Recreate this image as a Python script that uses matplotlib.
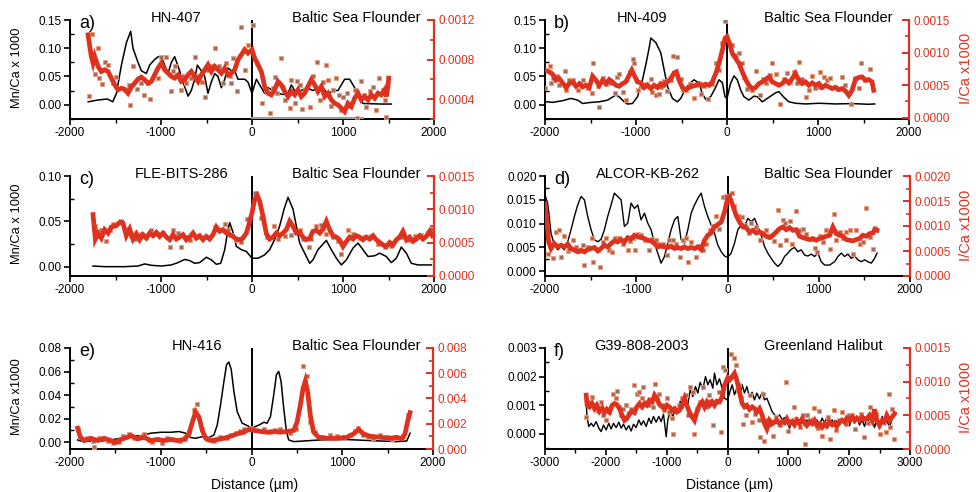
import numpy as np
import matplotlib
matplotlib.use("Agg")
import matplotlib.pyplot as plt
from matplotlib.ticker import MultipleLocator, FormatStrFormatter

plt.rcParams['font.family'] = ['Liberation Sans', 'DejaVu Sans']
plt.rcParams['axes.unicode_minus'] = False

# ======================= DATA =======================
# Mn/Ca (left axis) lines: (distance um, value)
a_mn = [(-1800,0.005),(-1700,0.008),(-1590,0.010),(-1530,0.005),(-1490,0.020),(-1435,0.070),(-1380,0.110),(-1333,0.130),(-1308,0.100),(-1253,0.075),(-1216,0.060),(-1161,0.055),(-1125,0.070),(-1070,0.080),(-1030,0.085),(-996,0.085),(-960,0.070),(-923,0.055),(-886,0.075),(-850,0.085),(-795,0.060),(-758,0.040),(-703,0.015),(-667,0.025),(-630,0.045),(-600,0.070),(-557,0.060),(-520,0.050),(-484,0.020),(-447,0.040),(-410,0.055),(-374,0.050),(-337,0.030),(-300,0.045),(-264,0.065),(-227,0.060),(-190,0.060),(-154,0.045),(-80,0.045),(-44,0.040),(0,0.020),(48,0.045),(103,0.030),(139,0.020),(176,0.030),(231,0.025),(286,0.020),(340,0.018),(396,0.020),(432,0.035),(487,0.020),(542,0.025),(597,0.030),(670,0.025),(725,0.030),(780,0.030),(835,0.018),(890,0.025),(945,0.025),(1018,0.045),(1073,0.045),(1128,0.030),(1183,0.010),(1220,0.002),(1421,0.001),(1531,0.001)]
b_mn = [(-2003,0.0054),(-1916,0.004),(-1806,0.007),(-1715,0.011),(-1642,0.008),(-1587,0.002),(-1514,0.0036),(-1404,0.005),(-1312,0.008),(-1221,0.017),(-1185,0.014),(-1130,0.005),(-1093,0.001),(-1038,0.002),(-983,0.014),(-929,0.044),(-892,0.071),(-856,0.100),(-837,0.118),(-782,0.110),(-728,0.092),(-691,0.062),(-654,0.032),(-600,0.011),(-545,0.005),(-508,0.011),(-453,0.029),(-398,0.039),(-362,0.044),(-307,0.038),(-271,0.019),(-234,0.0095),(-179,0.014),(-124,0.031),(-88,0.044),(-51,0.039),(-22,0.014),(0,0.011),(40,0.038),(77,0.051),(113,0.044),(150,0.026),(186,0.014),(241,0.008),(296,0.015),(333,0.014),(388,0.005),(461,0.013),(534,0.021),(570,0.023),(625,0.013),(680,0.005),(753,0.0024),(863,0.0012),(1009,0.0024),(1192,0.0012),(1375,0.0018),(1557,0.0006),(1623,0.0012)]
c_mn = [(-1747,0.0007),(-1619,0.0),(-1399,0.0),(-1253,0.0007),(-1179,0.003),(-1106,0.0015),(-996,0.0007),(-886,0.0019),(-813,0.0045),(-740,0.008),(-685,0.0067),(-630,0.0037),(-575,0.0045),(-502,0.0104),(-447,0.0075),(-392,0.0026),(-344,0.0037),(-300,0.0187),(-264,0.041),(-245,0.0485),(-209,0.038),(-172,0.0224),(-117,0.0187),(-62,0.0168),(0,0.0093),(66,0.0093),(139,0.013),(194,0.0187),(249,0.030),(304,0.0448),(352,0.0634),(396,0.0765),(451,0.0634),(487,0.0448),(524,0.026),(579,0.0149),(634,0.0037),(670,0.0075),(725,0.0187),(817,0.029),(872,0.0187),(927,0.0093),(982,0.0019),(1037,0.0075),(1110,0.0205),(1165,0.026),(1220,0.0187),(1275,0.0112),(1348,0.012),(1403,0.0149),(1476,0.0112),(1531,0.0045),(1586,0.0093),(1641,0.0216),(1696,0.0149),(1751,0.0037),(1824,0.0019),(1971,0.0019)]
d_mn_e3 = [(-2000,16.0),(-1971,14.3),(-1934,8.0),(-1898,5.5),(-1861,4.5),(-1824,5.2),(-1788,4.5),(-1751,6.2),(-1715,8.7),(-1678,11.5),(-1642,13.9),(-1605,15.7),(-1568,15.0),(-1532,11.5),(-1495,8.7),(-1459,6.6),(-1422,6.2),(-1386,6.7),(-1349,8.7),(-1313,11.5),(-1276,13.9),(-1240,16.4),(-1203,15.7),(-1166,15.0),(-1130,9.4),(-1093,10.1),(-1057,14.3),(-1020,13.2),(-983,13.9),(-947,10.8),(-910,12.2),(-874,10.1),(-837,8.7),(-801,5.9),(-764,3.8),(-728,1.7),(-691,3.1),(-654,5.9),(-618,8.7),(-581,10.8),(-545,11.5),(-508,6.6),(-472,5.9),(-435,8.7),(-398,12.2),(-362,13.9),(-325,15.3),(-289,16.4),(-252,13.6),(-216,11.5),(-179,9.7),(-143,8.0),(-106,5.5),(-69,4.1),(-33,3.2),(0,2.9),(40,3.8),(77,5.9),(113,8.7),(150,9.7),(186,9.4),(223,11.1),(260,10.4),(296,11.1),(333,9.4),(369,7.6),(406,5.2),(442,3.8),(479,2.7),(516,1.7),(552,1.0),(589,1.7),(625,3.1),(662,3.8),(698,4.6),(735,5.0),(771,4.1),(808,4.5),(845,3.4),(881,3.2),(918,3.6),(954,3.1),(991,3.8),(1027,2.0),(1064,1.3),(1119,1.3),(1174,2.0),(1210,3.1),(1247,3.8),(1283,3.1),(1320,3.6),(1356,2.7),(1393,3.2),(1429,2.4),(1466,2.0),(1503,2.4),(1539,2.0),(1576,1.7),(1612,2.7),(1638,3.8)]
e_mn_e3 = [(-1916,2.0),(-1861,0.57),(-1769,1.1),(-1659,1.1),(-1549,2.0),(-1440,3.4),(-1330,4.8),(-1220,5.7),(-1110,7.7),(-1000,8.5),(-890,8.5),(-799,9.1),(-725,7.7),(-670,4.0),(-615,3.4),(-542,4.8),(-469,4.0),(-414,6.2),(-377,14.8),(-341,31.8),(-304,51.6),(-275,65.8),(-249,68.1),(-223,61.6),(-194,43.1),(-158,26.1),(-103,16.2),(-48,14.2),(0,12.5),(44,13.3),(99,15.3),(136,17.0),(172,16.2),(209,21.8),(245,40.3),(275,57.3),(300,60.1),(326,51.6),(355,28.9),(385,9.1),(410,2.0),(465,0.57),(575,1.1),(758,2.0),(868,2.3),(1051,2.3),(1234,1.7),(1418,1.1),(1601,0.57),(1711,1.1),(1747,7.7)]
f_mn_e3 = [(-2323,1.07),(-2307,0.54),(-2280,0.25),(-2241,0.36),(-2203,0.25),(-2159,0.42),(-2115,0.19),(-2077,0.07),(-2039,0.30),(-1995,0.13),(-1951,0.36),(-1913,0.16),(-1874,0.36),(-1830,0.21),(-1786,0.40),(-1748,0.19),(-1710,0.33),(-1666,0.13),(-1622,0.28),(-1584,0.09),(-1545,0.33),(-1502,0.21),(-1458,0.48),(-1419,0.30),(-1381,0.45),(-1337,0.25),(-1293,0.54),(-1255,0.36),(-1217,0.60),(-1173,0.40),(-1129,0.60),(-1091,0.42),(-1052,0.68),(-1008,-0.11),(-981,0.48),(-943,0.77),(-899,0.60),(-855,0.89),(-817,0.71),(-778,1.13),(-734,0.89),(-690,1.24),(-652,1.01),(-614,1.54),(-570,1.30),(-526,1.65),(-488,1.42),(-449,1.80),(-406,1.54),(-362,2.00),(-323,1.71),(-285,1.89),(-241,1.59),(-214,2.12),(-175,1.71),(-132,1.92),(-88,1.59),(-49,1.24),(0,1.18),(33,1.42),(77,1.71),(115,1.36),(153,1.59),(197,1.30),(241,1.71),(279,1.42),(318,1.65),(362,1.27),(405,1.45),(444,1.18),(482,1.42),(526,1.22),(570,1.45),(608,1.18),(647,1.24),(690,1.01),(734,0.77),(773,0.66),(811,0.54),(855,0.66),(899,0.48),(937,0.56),(975,0.42),(1019,0.19),(1063,0.48),(1101,0.36),(1140,0.54),(1184,0.36),(1228,0.48),(1266,0.28),(1304,0.48),(1348,0.36),(1392,0.54),(1430,0.33),(1469,0.48),(1512,0.30),(1556,0.54),(1595,0.36),(1633,0.56),(1677,0.33),(1721,0.48),(1759,0.25),(1797,0.45),(1841,0.30),(1885,0.54),(1923,0.36),(1962,0.48),(2006,0.28),(2050,0.54),(2088,0.36),(2126,0.60),(2170,0.30),(2214,0.48),(2252,0.25),(2291,0.54),(2334,0.36),(2378,0.60),(2417,0.21),(2455,0.48),(2499,0.30),(2543,0.60),(2581,0.33),(2619,0.48),(2663,0.21),(2707,0.54),(2745,0.66)]

# I/Ca (right axis) smoothed lines, in units of 1e-4 (panel e in 1e-3)
a_ica_e4 = [(-1802,10.5),(-1766,8.32),(-1747,7.65),(-1729,8.32),(-1692,7.31),(-1656,6.80),(-1619,6.97),(-1582,6.80),(-1546,6.13),(-1509,5.45),(-1472,4.95),(-1436,5.11),(-1399,5.01),(-1363,4.61),(-1326,5.22),(-1289,5.62),(-1253,6.03),(-1216,6.23),(-1179,5.96),(-1143,5.62),(-1106,5.79),(-1070,6.46),(-1033,7.14),(-996,7.65),(-960,6.97),(-923,6.63),(-886,6.30),(-850,6.13),(-813,6.46),(-777,5.79),(-740,5.96),(-703,6.46),(-667,6.80),(-630,6.30),(-593,5.79),(-557,6.46),(-520,6.97),(-484,7.48),(-447,6.80),(-410,7.31),(-374,6.97),(-337,6.63),(-300,7.14),(-264,6.46),(-227,6.63),(-190,6.97),(-154,7.98),(-117,8.49),(-81,9.00),(-44,8.66),(0,9.00),(29,8.15),(66,7.48),(103,6.80),(139,5.28),(176,4.61),(212,4.44),(249,4.95),(286,5.79),(322,5.45),(359,4.78),(396,4.27),(432,4.78),(469,4.44),(505,4.95),(542,4.27),(579,4.61),(615,5.28),(652,5.96),(689,5.45),(725,4.78),(762,5.28),(799,4.27),(835,4.61),(872,3.93),(908,3.59),(945,3.43),(982,3.09),(1018,2.75),(1055,3.59),(1092,3.26),(1128,4.10),(1165,4.61),(1201,3.93),(1238,4.27),(1275,3.93),(1311,4.44),(1348,4.10),(1385,4.61),(1421,4.44),(1458,4.95),(1476,4.27),(1494,5.28),(1502,6.13)]
b_ica_e4 = [(-2003,7.30),(-1952,7.04),(-1916,6.68),(-1879,5.76),(-1843,6.01),(-1806,5.34),(-1769,4.63),(-1733,5.24),(-1696,5.50),(-1660,4.83),(-1623,5.24),(-1587,4.73),(-1550,4.98),(-1514,4.63),(-1477,6.37),(-1440,5.76),(-1404,4.98),(-1367,5.76),(-1331,5.24),(-1294,5.86),(-1258,5.50),(-1221,4.98),(-1185,4.83),(-1148,5.24),(-1111,5.50),(-1075,6.53),(-1046,7.30),(-1020,6.53),(-983,5.50),(-947,5.34),(-910,4.63),(-874,4.98),(-837,4.47),(-801,4.98),(-764,4.63),(-728,5.24),(-691,4.98),(-654,5.50),(-618,6.01),(-581,6.89),(-556,7.04),(-527,5.76),(-490,4.63),(-453,4.32),(-417,4.63),(-380,4.83),(-344,4.98),(-307,5.24),(-271,4.98),(-234,5.14),(-197,4.98),(-161,5.50),(-124,6.78),(-88,8.33),(-51,10.38),(-22,12.18),(0,12.44),(29,11.41),(58,9.87),(95,9.10),(132,8.33),(168,7.04),(205,5.86),(241,4.98),(278,4.47),(314,4.63),(351,5.24),(388,5.50),(424,5.86),(461,6.27),(497,5.50),(534,5.24),(570,4.98),(607,5.24),(643,5.76),(680,5.34),(717,6.01),(753,6.78),(790,5.76),(826,5.24),(863,5.50),(899,4.98),(936,5.34),(972,4.98),(1009,5.24),(1046,4.63),(1082,4.98),(1119,4.73),(1155,4.47),(1192,4.63),(1228,4.32),(1265,4.47),(1302,4.11),(1338,3.44),(1375,4.21),(1411,5.86),(1448,6.17),(1484,6.27),(1521,5.76),(1557,5.86),(1594,5.50),(1612,4.21)]
c_ica_e4 = [(-1747,9.21),(-1722,5.54),(-1692,6.44),(-1656,5.69),(-1619,6.95),(-1582,6.44),(-1546,7.35),(-1491,7.55),(-1454,8.05),(-1418,7.95),(-1381,6.04),(-1344,7.05),(-1308,5.54),(-1271,6.34),(-1234,5.44),(-1198,6.19),(-1161,5.69),(-1125,6.44),(-1088,6.04),(-1051,6.54),(-1015,5.94),(-978,6.44),(-941,5.84),(-905,5.44),(-868,6.19),(-831,5.54),(-795,5.84),(-758,6.19),(-722,5.44),(-685,5.84),(-648,6.44),(-612,5.69),(-575,6.04),(-538,5.44),(-502,5.94),(-465,5.54),(-429,6.19),(-392,7.35),(-355,6.70),(-319,6.95),(-282,6.44),(-245,6.19),(-209,5.94),(-172,5.54),(-136,5.44),(-99,5.69),(-62,6.44),(-37,7.55),(0,9.46),(29,11.48),(59,12.08),(84,11.23),(121,8.96),(158,6.34),(194,5.54),(231,5.84),(267,6.44),(304,6.04),(341,6.44),(377,6.95),(414,8.21),(451,7.45),(487,6.44),(524,6.54),(560,5.84),(597,5.44),(634,5.69),(670,6.70),(707,6.85),(744,6.44),(780,7.05),(817,8.21),(853,6.95),(890,6.04),(927,5.84),(963,5.44),(1000,4.43),(1037,5.19),(1073,5.84),(1110,5.54),(1147,6.04),(1183,5.84),(1220,5.44),(1256,5.84),(1293,5.54),(1330,6.04),(1366,5.44),(1403,5.03),(1440,4.68),(1476,4.43),(1513,5.03),(1549,4.68),(1586,5.44),(1622,5.84),(1659,6.70),(1696,5.44),(1732,5.84),(1769,5.19),(1806,5.54),(1842,6.04),(1879,5.54),(1915,5.94),(1952,6.70),(1982,6.04)]
d_ica_e4 = [(-2000,14.4),(-1982,11.8),(-1960,6.82),(-1934,5.50),(-1898,6.49),(-1861,5.83),(-1824,6.16),(-1788,5.83),(-1751,6.36),(-1715,5.50),(-1678,5.17),(-1642,4.83),(-1605,5.17),(-1568,4.83),(-1532,5.30),(-1495,5.50),(-1459,5.70),(-1422,5.03),(-1386,5.50),(-1349,6.16),(-1313,5.83),(-1276,6.49),(-1240,7.02),(-1203,6.82),(-1166,7.29),(-1130,6.82),(-1093,7.68),(-1057,7.48),(-1020,8.15),(-983,7.82),(-947,7.68),(-910,7.48),(-874,7.15),(-837,7.02),(-801,6.49),(-764,5.83),(-728,5.96),(-691,5.83),(-654,5.70),(-618,5.96),(-581,5.50),(-545,5.70),(-508,5.50),(-472,5.83),(-435,5.50),(-398,5.70),(-362,5.50),(-325,5.83),(-289,5.30),(-252,7.15),(-216,8.15),(-179,8.61),(-143,9.80),(-106,10.3),(-69,10.8),(-33,12.8),(0,15.4),(22,15.8),(58,14.1),(95,12.1),(132,10.8),(168,9.80),(205,9.67),(241,8.81),(278,9.14),(314,8.61),(351,8.81),(388,8.48),(424,7.95),(461,7.68),(497,8.15),(534,8.81),(570,9.47),(607,9.80),(643,9.27),(680,9.67),(717,9.14),(753,9.27),(790,7.95),(826,7.68),(863,7.48),(899,7.29),(936,7.48),(972,7.15),(1009,7.48),(1046,7.68),(1082,7.95),(1119,8.15),(1155,9.80),(1192,8.48),(1228,8.15),(1265,7.95),(1302,7.29),(1338,7.15),(1375,7.02),(1411,7.29),(1448,7.48),(1484,8.15),(1521,7.95),(1557,8.48),(1594,8.61),(1612,9.27),(1638,9.14)]
e_ica_e3 = [(-1916,1.65),(-1886,0.93),(-1842,0.67),(-1769,0.85),(-1696,0.67),(-1623,0.85),(-1549,0.67),(-1494,0.53),(-1440,0.75),(-1366,0.93),(-1330,1.07),(-1256,0.80),(-1183,0.93),(-1110,0.67),(-1037,0.75),(-963,0.67),(-890,0.75),(-817,0.67),(-744,0.75),(-689,1.20),(-652,2.13),(-615,2.93),(-579,2.53),(-542,1.47),(-505,0.85),(-451,0.67),(-377,0.75),(-304,0.85),(-231,1.01),(-158,1.20),(-84,1.33),(-29,1.55),(26,1.47),(99,1.39),(172,1.33),(245,1.39),(319,1.33),(392,1.39),(465,1.47),(502,2.13),(538,3.47),(568,4.80),(593,5.39),(619,4.53),(648,2.67),(685,1.33),(740,0.93),(832,0.85),(941,0.85),(1051,0.93),(1125,1.20),(1179,1.55),(1234,1.20),(1308,1.01),(1418,0.93),(1528,0.85),(1601,0.93),(1656,0.80),(1692,1.20),(1718,2.13),(1747,2.88)]
f_ica_e4 = [(-2323,8.0),(-2307,6.5),(-2269,6.25),(-2225,6.75),(-2186,6.0),(-2148,6.5),(-2104,5.6),(-2060,6.1),(-2022,5.4),(-1984,5.9),(-1940,5.5),(-1896,6.5),(-1858,6.75),(-1819,6.6),(-1776,6.0),(-1732,5.0),(-1693,4.25),(-1655,4.5),(-1611,5.25),(-1567,5.6),(-1529,5.4),(-1491,6.25),(-1447,6.75),(-1403,6.25),(-1365,6.75),(-1326,6.5),(-1282,7.25),(-1238,7.0),(-1200,8.0),(-1162,7.5),(-1118,6.6),(-1074,6.25),(-1036,6.0),(-997,6.5),(-954,6.25),(-910,5.75),(-871,6.0),(-833,5.5),(-789,5.75),(-745,6.5),(-707,7.5),(-669,6.5),(-625,5.5),(-581,4.75),(-543,4.25),(-504,5.5),(-460,6.5),(-416,7.0),(-378,6.25),(-340,7.0),(-296,6.5),(-252,7.0),(-214,6.5),(-175,7.1),(-132,7.0),(-88,7.75),(-49,9.5),(0,10.5),(33,10.25),(77,10.75),(115,11.25),(153,10.25),(197,8.5),(241,6.75),(279,6.25),(318,6.5),(362,5.9),(405,6.25),(444,6.0),(482,5.5),(526,6.0),(570,5.0),(608,3.75),(647,3.0),(690,4.25),(734,3.75),(773,4.0),(811,4.25),(855,3.75),(899,4.1),(937,3.9),(975,4.5),(1019,3.75),(1063,4.1),(1101,3.6),(1140,4.25),(1184,3.75),(1228,4.5),(1266,3.9),(1304,3.5),(1348,4.0),(1392,3.75),(1430,4.25),(1469,3.5),(1512,3.75),(1556,3.25),(1595,3.75),(1633,3.4),(1677,4.0),(1721,3.6),(1759,3.9),(1797,3.4),(1841,4.0),(1885,4.25),(1923,4.0),(1962,4.6),(2006,4.25),(2050,4.75),(2088,4.25),(2126,4.6),(2170,4.25),(2214,4.75),(2252,4.4),(2291,4.5),(2334,5.0),(2378,4.25),(2417,5.9),(2455,4.25),(2499,3.5),(2543,4.25),(2581,4.0),(2619,5.0),(2663,4.25),(2707,4.75),(2745,5.25)]

# I/Ca raw measurements (squares), same units as the smoothed lines
a_pts_e4 = [(-1795,4.34),(-1755,10.62),(-1692,9.17),(-1729,6.57),(-1685,6.19),(-1645,5.55),(-1612,7.71),(-1582,7.48),(-1527,5.62),(-1491,6.23),(-1399,4.95),(-1355,5.45),(-1337,3.43),(-1308,7.31),(-1260,5.01),(-1216,5.62),(-1190,4.44),(-1143,5.62),(-1125,4.00),(-1033,6.13),(-1004,8.25),(-941,8.25),(-894,4.78),(-868,6.80),(-842,7.31),(-784,4.95),(-769,6.30),(-722,5.62),(-674,6.13),(-630,8.25),(-593,6.30),(-549,5.69),(-513,4.20),(-484,6.97),(-447,7.31),(-403,9.17),(-366,7.31),(-319,5.62),(-282,7.65),(-245,6.30),(-227,5.62),(-209,8.15),(-161,4.78),(-125,11.29),(-81,6.97),(-44,9.50),(15,11.53),(59,7.65),(114,3.59),(158,4.95),(194,2.58),(231,5.11),(249,6.23),(278,4.61),(315,8.15),(341,5.22),(366,3.93),(414,3.09),(432,5.96),(476,3.59),(498,5.79),(524,5.45),(549,2.99),(586,4.95),(634,3.26),(670,6.36),(714,7.71),(751,3.93),(780,5.69),(817,7.48),(835,5.89),(864,3.32),(890,4.88),(927,6.13),(952,4.44),(982,2.92),(1000,4.27),(1048,4.61),(1073,3.32),(1128,4.95),(1157,2.08),(1201,5.79),(1231,4.44),(1256,3.26),(1293,4.78),(1330,5.28),(1366,2.92),(1392,6.13),(1440,4.95),(1458,3.93),(1476,2.24)]
b_pts_e4 = [(-1996,4.63),(-1945,7.91),(-1916,6.17),(-1934,5.34),(-1872,6.37),(-1850,4.98),(-1777,7.19),(-1769,4.21),(-1733,5.76),(-1696,5.76),(-1642,4.32),(-1616,5.14),(-1579,5.76),(-1532,4.63),(-1484,3.80),(-1470,8.43),(-1422,4.83),(-1404,1.64),(-1367,6.17),(-1331,5.24),(-1287,5.34),(-1228,3.80),(-1214,6.27),(-1185,6.78),(-1148,3.96),(-1111,2.67),(-1068,7.04),(-1038,8.94),(-1020,8.43),(-973,4.32),(-936,4.73),(-885,5.24),(-837,6.01),(-819,3.96),(-782,3.44),(-746,3.60),(-728,4.73),(-691,5.65),(-654,4.11),(-618,5.86),(-592,9.46),(-545,9.25),(-508,6.01),(-483,4.21),(-453,4.32),(-409,5.14),(-362,3.08),(-325,4.98),(-289,3.60),(-252,4.83),(-205,2.93),(-161,5.14),(-117,8.43),(-88,7.30),(-51,11.41),(-22,14.85),(-7,12.03),(51,11.15),(95,9.61),(132,9.87),(161,8.43),(186,6.27),(223,4.47),(278,4.21),(322,7.19),(358,3.44),(395,6.01),(424,5.34),(468,6.53),(497,8.43),(534,6.68),(578,2.16),(625,6.01),(662,6.89),(687,5.50),(735,7.04),(771,5.34),(790,8.58),(826,6.01),(863,3.19),(899,4.21),(936,6.37),(965,4.63),(1009,4.73),(1027,7.04),(1064,6.27),(1100,5.86),(1137,6.17),(1185,4.73),(1221,4.47),(1265,6.27),(1302,4.98),(1338,3.80),(1367,2.16),(1411,6.17),(1448,4.63),(1477,8.43),(1514,5.86),(1576,7.55)]
c_pts_e4 = [(-1722,7.55),(-1692,5.94),(-1656,6.95),(-1601,5.19),(-1564,6.95),(-1527,7.85),(-1443,8.21),(-1399,7.05),(-1326,6.04),(-1289,5.54),(-1216,6.34),(-1161,5.84),(-1106,6.85),(-1040,6.34),(-978,6.44),(-905,4.33),(-868,6.85),(-813,6.44),(-784,4.33),(-740,5.84),(-685,5.44),(-612,5.84),(-520,5.84),(-410,7.35),(-300,7.85),(-264,6.95),(-227,6.19),(-172,5.44),(-117,5.03),(-51,8.56),(29,12.38),(103,8.71),(168,5.84),(242,7.55),(286,5.54),(359,5.94),(432,6.19),(524,6.95),(560,5.54),(623,4.33),(652,5.54),(707,7.45),(755,7.70),(780,7.20),(817,6.34),(890,5.84),(945,5.19),(982,3.32),(1055,6.85),(1110,6.34),(1183,5.69),(1238,5.84),(1311,6.04),(1385,4.83),(1458,4.33),(1531,4.53),(1641,5.84),(1714,5.34),(1788,6.04),(1861,6.19),(1934,6.44),(1963,7.05)]
d_pts_e4 = [(-1971,4.37),(-1916,3.51),(-1879,8.81),(-1843,9.14),(-1824,3.84),(-1788,7.95),(-1751,5.03),(-1733,5.50),(-1696,7.15),(-1660,5.83),(-1623,5.03),(-1587,6.16),(-1568,2.19),(-1532,5.83),(-1484,7.68),(-1470,2.85),(-1422,5.30),(-1397,1.85),(-1367,6.82),(-1331,7.68),(-1302,5.17),(-1265,4.83),(-1228,7.68),(-1185,7.68),(-1141,6.49),(-1093,5.17),(-1068,7.02),(-1038,7.68),(-1009,5.17),(-983,8.48),(-947,8.15),(-899,7.29),(-856,5.17),(-826,7.48),(-782,7.15),(-746,6.49),(-709,6.36),(-665,4.17),(-636,7.29),(-600,7.15),(-563,6.36),(-526,3.84),(-490,7.29),(-453,7.68),(-435,2.85),(-398,6.82),(-344,3.71),(-307,5.96),(-271,5.17),(-234,6.49),(-197,9.14),(-161,9.93),(-124,12.1),(-88,9.47),(-44,15.8),(-15,16.1),(22,15.2),(51,16.6),(66,14.1),(124,12.1),(161,11.9),(197,10.3),(241,8.61),(260,10.6),(314,9.80),(358,7.15),(424,9.14),(461,7.95),(505,7.02),(552,13.2),(570,6.16),(607,11.3),(625,10.6),(643,7.15),(680,11.0),(709,6.36),(753,13.0),(790,9.14),(826,9.47),(863,8.48),(918,7.48),(954,5.70),(980,4.83),(1009,7.95),(1046,6.82),(1082,9.27),(1119,5.50),(1163,12.5),(1192,7.15),(1228,8.81),(1265,7.68),(1302,8.81),(1338,9.14),(1375,4.50),(1411,9.27),(1448,6.49),(1484,6.82),(1521,13.6),(1557,7.82),(1594,5.50),(1612,9.67)]
e_pts_e3 = [(-1908,1.55),(-1861,0.80),(-1813,0.85),(-1751,0.67),(-1733,0.13),(-1678,0.85),(-1586,0.67),(-1531,0.48),(-1458,0.53),(-1421,1.01),(-1348,1.20),(-1293,0.85),(-1220,0.93),(-1183,1.20),(-1128,0.75),(-1092,0.53),(-1037,0.80),(-982,0.48),(-927,0.85),(-872,0.80),(-788,0.67),(-736,0.80),(-689,1.33),(-634,3.07),(-597,3.60),(-542,1.60),(-487,0.80),(-414,0.67),(-348,0.93),(-267,0.85),(-231,1.12),(-176,1.28),(-128,1.39),(-84,1.60),(-11,1.65),(55,1.47),(136,1.55),(201,1.33),(264,1.47),(319,1.55),(429,1.28),(495,1.55),(568,6.61),(612,5.81),(648,2.13),(703,1.33),(777,0.93),(868,1.07),(941,1.01),(1015,0.93),(1088,1.07),(1143,1.39),(1179,1.65),(1234,1.12),(1289,0.93),(1344,0.85),(1418,1.07),(1491,0.93),(1546,0.80),(1601,0.85),(1674,1.01),(1729,2.67)]
f_pts_e4 = [(-2324,4.75),(-2269,7.0),(-2225,7.75),(-2187,6.5),(-2132,5.6),(-2077,7.0),(-2050,5.0),(-1995,4.25),(-1940,5.5),(-1885,8.1),(-1841,7.6),(-1819,8.6),(-1786,6.25),(-1748,5.0),(-1710,5.9),(-1666,6.5),(-1622,5.4),(-1584,6.0),(-1545,9.5),(-1491,8.1),(-1447,8.4),(-1403,7.5),(-1381,9.25),(-1337,7.0),(-1293,6.5),(-1228,6.25),(-1200,9.6),(-1162,7.75),(-1118,8.1),(-1074,6.5),(-1036,5.75),(-997,7.5),(-954,5.5),(-910,4.6),(-888,2.25),(-844,6.0),(-800,6.6),(-745,7.5),(-690,8.0),(-652,5.0),(-614,9.25),(-570,8.5),(-543,2.25),(-504,6.0),(-460,7.0),(-406,9.25),(-351,6.25),(-307,8.0),(-285,7.1),(-241,3.5),(-186,7.0),(-132,8.5),(-104,2.5),(-66,12.25),(-33,11.75),(22,10.75),(60,14.1),(99,13.5),(132,12.5),(170,8.75),(197,9.5),(225,7.5),(263,3.75),(307,5.0),(362,8.0),(405,4.0),(460,5.25),(515,4.25),(537,1.75),(581,8.1),(608,1.25),(647,4.25),(690,3.5),(745,2.0),(800,4.75),(855,3.5),(954,9.9),(992,2.6),(1030,4.0),(1101,6.25),(1129,4.5),(1184,3.25),(1238,5.0),(1266,0.75),(1304,5.0),(1359,4.25),(1430,6.1),(1485,3.1),(1512,5.6),(1556,2.0),(1595,3.5),(1649,4.75),(1688,1.5),(1743,5.75),(1786,2.75),(1841,4.25),(1885,5.5),(1940,3.75),(1995,5.1),(2050,5.0),(2088,2.9),(2126,4.5),(2197,5.25),(2252,1.75),(2307,3.9),(2345,6.25),(2389,4.5),(2444,5.25),(2499,2.25),(2543,4.0),(2598,2.5),(2652,8.1),(2674,3.25),(2707,5.9),(2729,1.5)]

# faint grey trace along the bottom of panel a (I/Ca, 1e-4)
a_grey_e4 = [(0, 2.08), (1220, 2.08)]

labels = ['a)', 'b)', 'c)', 'd)', 'e)', 'f)']
samples = ['HN-407', 'HN-409', 'FLE-BITS-286', 'ALCOR-KB-262', 'HN-416', 'G39-808-2003']
species = ['Baltic Sea Flounder'] * 5 + ['Greenland Halibut']

# ======================= STYLE / LAYOUT =======================
RED = '#e0301e'
SQ_FACE = '#a86a58'
SQ_EDGE = '#f09a78'
W, H = 976, 492
fig = plt.figure(figsize=(W / 100, H / 100), dpi=100)

panels = [
    dict(rect=(70, 434, 20, 119), xlim=(-2000, 2000), yl=(-0.0255, 0.15), yr=(0.0002, 0.0012),
         lmaj=0.05, lmin=0.025, lfmt='%.2f', rmaj=0.0004, rmin=0.0002, rfmt='%.4f',
         mn=a_mn, mns=1.0, ica=a_ica_e4, pts=a_pts_e4, isc=1e-4, lab='Mn/Ca x 1000', rlab=None, mlw=1.1),
    dict(rect=(545, 909, 20, 119), xlim=(-2000, 2000), yl=(-0.0255, 0.15), yr=(-0.00002, 0.0015),
         lmaj=0.05, lmin=0.025, lfmt='%.2f', rmaj=0.0005, rmin=0.00025, rfmt='%.4f',
         mn=b_mn, mns=1.0, ica=b_ica_e4, pts=b_pts_e4, isc=1e-4, lab=None, rlab='I/Ca x1000', mlw=1.1),
    dict(rect=(70, 434, 176, 276), xlim=(-2000, 2000), yl=(-0.0103, 0.10), yr=(0.0, 0.0015),
         lmaj=0.05, lmin=0.025, lfmt='%.2f', rmaj=0.0005, rmin=0.00025, rfmt='%.4f',
         mn=c_mn, mns=1.0, ica=c_ica_e4, pts=c_pts_e4, isc=1e-4, lab='Mn/Ca x 1000', rlab=None, mlw=1.1),
    dict(rect=(545, 910, 176, 276), xlim=(-2000, 2000), yl=(-0.001, 0.020), yr=(0.0, 0.002),
         lmaj=0.005, lmin=0.0025, lfmt='%.3f', rmaj=0.0005, rmin=0.00025, rfmt='%.4f',
         mn=d_mn_e3, mns=1e-3, ica=d_ica_e4, pts=d_pts_e4, isc=1e-4, lab=None, rlab='I/Ca x1000', mlw=1.0),
    dict(rect=(70, 433, 348, 449), xlim=(-2000, 2000), yl=(-0.0057, 0.08), yr=(0.0, 0.008),
         lmaj=0.02, lmin=0.01, lfmt='%.2f', rmaj=0.002, rmin=0.001, rfmt='%.3f',
         mn=e_mn_e3, mns=1e-3, ica=e_ica_e3, pts=e_pts_e3, isc=1e-3, lab='Mn/Ca x1000', rlab=None, mlw=1.1),
    dict(rect=(545, 910, 348, 449), xlim=(-3000, 3000), yl=(-0.00054, 0.003), yr=(0.0, 0.0015),
         lmaj=0.001, lmin=0.0005, lfmt='%.3f', rmaj=0.0005, rmin=0.00025, rfmt='%.4f',
         mn=f_mn_e3, mns=1e-3, ica=f_ica_e4, pts=f_pts_e4, isc=1e-4, lab=None, rlab='I/Ca x1000', mlw=1.0),
]

TICK_FS = 8.5
for i, p in enumerate(panels):
    x0, x1, yt, yb = p['rect']
    ax = fig.add_axes([x0 / W, 1 - yb / H, (x1 - x0) / W, (yb - yt) / H])
    ax2 = ax.twinx()
    ax.set_xlim(*p['xlim'])
    ax.set_ylim(*p['yl'])
    ax2.set_ylim(*p['yr'])

    mn = np.array(p['mn'], dtype=float)
    ax.plot(mn[:, 0], mn[:, 1] * p['mns'], color='black', lw=p['mlw'], zorder=2)
    ax.axvline(0, color='black', lw=1.4, zorder=3)

    pts = np.array(p['pts'], dtype=float)
    ax2.scatter(pts[:, 0], pts[:, 1] * p['isc'], marker='s', s=5, facecolor=SQ_FACE,
                edgecolor=SQ_EDGE, linewidths=0.6, zorder=2)
    ica = np.array(p['ica'], dtype=float)
    ax2.plot(ica[:, 0], ica[:, 1] * p['isc'], color=RED, lw=3.4, solid_joinstyle='miter', zorder=3)
    if i == 0:
        g = np.array(a_grey_e4, dtype=float)
        ax2.plot(g[:, 0], g[:, 1] * 1e-4, color='#999999', lw=1.5, zorder=1)

    # spines
    for s in ['top', 'right']:
        ax.spines[s].set_visible(False)
    for s in ['top', 'left', 'bottom']:
        ax2.spines[s].set_visible(False)
    ax.spines['left'].set_linewidth(1.4)
    ax.spines['bottom'].set_linewidth(1.4)
    ax2.spines['right'].set_color(RED)
    ax2.spines['right'].set_linewidth(1.6)

    # ticks
    ax.xaxis.set_major_locator(MultipleLocator(1000))
    ax.xaxis.set_minor_locator(MultipleLocator(500))
    ax.xaxis.set_major_formatter(FormatStrFormatter('%d'))
    ax.yaxis.set_major_locator(MultipleLocator(p['lmaj']))
    ax.yaxis.set_minor_locator(MultipleLocator(p['lmin']))
    ax.yaxis.set_major_formatter(FormatStrFormatter(p['lfmt']))
    ax.tick_params(axis='x', which='major', direction='out', length=4, width=1.2, labelsize=TICK_FS, pad=2)
    ax.tick_params(axis='x', which='minor', direction='out', length=3, width=1.0)
    ax.tick_params(axis='y', which='major', direction='out', length=4, width=1.2, labelsize=TICK_FS, pad=2)
    ax.tick_params(axis='y', which='minor', direction='in', length=3, width=1.0)

    ax2.yaxis.set_major_locator(MultipleLocator(p['rmaj']))
    ax2.yaxis.set_minor_locator(MultipleLocator(p['rmin']))
    ax2.yaxis.set_major_formatter(FormatStrFormatter(p['rfmt']))
    ax2.tick_params(axis='y', which='major', direction='in', length=5, width=1.4,
                    colors=RED, labelcolor=RED, labelsize=TICK_FS, pad=3)
    ax2.tick_params(axis='y', which='minor', direction='in', length=3, width=1.2, colors=RED)

    ax.set_zorder(1)
    ax2.set_zorder(2)
    ax2.patch.set_visible(False)

    # texts
    top = yt
    fig.text((x0 + 9) / W, 1 - (top + 3) / H, labels[i], fontsize=13, ha='left', va='center')
    ctr = {0: 176, 1: 642, 2: 182, 3: 648, 4: 197, 5: 642}[i]
    fig.text(ctr / W, 1 - (top - 2) / H, samples[i], fontsize=10.5, ha='center', va='center')
    rgt = {0: 421, 1: 893, 2: 421, 3: 893, 4: 421, 5: 883}[i]
    fig.text(rgt / W, 1 - (top - 2) / H, species[i], fontsize=10.5, ha='right', va='center')
    if p['lab']:
        fig.text(17 / W, 1 - ((yt + yb) / 2 - 2) / H, p['lab'], fontsize=9.3, rotation=90,
                 ha='center', va='center')
    if p['rlab']:
        fig.text(966 / W, 1 - ((yt + yb) / 2 - 1) / H, p['rlab'], fontsize=10.5, rotation=90,
                 ha='center', va='center', color=RED)

fig.text(255 / W, 1 - 485 / H, 'Distance (\u00b5m)', fontsize=10, ha='center', va='center')
fig.text(730 / W, 1 - 485 / H, 'Distance (\u00b5m)', fontsize=10, ha='center', va='center')

fig.savefig('out.png', dpi=100)
